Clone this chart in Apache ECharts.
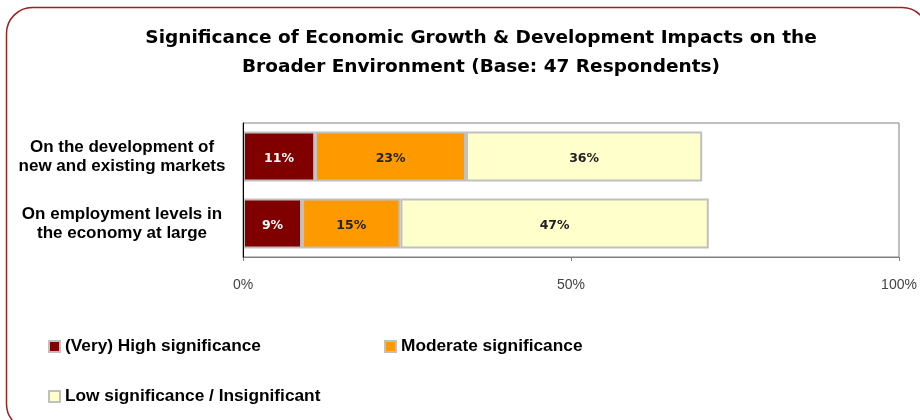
<!DOCTYPE html>
<html>
<head>
<meta charset="utf-8">
<script src="https://cdn.jsdelivr.net/npm/echarts@6/dist/echarts.min.js"></script>
<style>
  html, body { margin: 0; padding: 0; background: #fff; }
  #chart { width: 920px; height: 420px; }
</style>
</head>
<body>
<div id="chart"></div>
<script>
// Impact areas (rows, top to bottom)
const categories = [
  'On the development of\nnew and existing markets',
  'On employment levels in\nthe economy at large'
];
// Share of respondents per significance level (%)
const highSignificance = [11, 9];
const moderateSignificance = [23, 15];
const lowSignificance = [36, 47];
// Value axis ticks
const axisTicks = [0, 50, 100];

const seriesNames = [
  '(Very) High significance',
  'Moderate significance',
  'Low significance / Insignificant'
];
const seriesColors = ['#800000', '#FF9900', '#FFFFCC'];
const labelColors = ['#ffffff', '#222222', '#222222'];
const seriesValues = [highSignificance, moderateSignificance, lowSignificance];

const chart = echarts.init(document.getElementById('chart'), null, { renderer: 'canvas' });

const series = seriesNames.map((name, i) => ({
  name: name,
  type: 'bar',
  stack: 'total',
  barWidth: 50,
  data: seriesValues[i],
  itemStyle: { color: seriesColors[i], borderColor: '#C0C0C0', borderWidth: 2 },
  label: {
    show: true,
    position: 'inside',
    offset: [0, 2],
    formatter: '{c}%',
    color: labelColors[i],
    fontFamily: 'DejaVu Sans',
    fontWeight: 'bold',
    fontSize: 12.5
  },
  emphasis: { disabled: true }
}));

const legendBase = {
  icon: 'rect',
  itemWidth: 11,
  itemHeight: 11,
  itemGap: 4,
  textStyle: { fontFamily: 'Liberation Sans', fontWeight: 'bold', fontSize: 17.3, color: '#000' },
  selectedMode: false
};

chart.setOption({
  animation: false,
  backgroundColor: '#ffffff',
  title: {
    text: 'Significance of Economic Growth & Development Impacts on the\nBroader Environment (Base: 47 Respondents)',
    left: 476,
    top: 19,
    textAlign: 'center',
    textStyle: {
      fontFamily: 'DejaVu Sans',
      fontWeight: 'bold',
      fontSize: 18.5,
      lineHeight: 29,
      color: '#000'
    }
  },
  graphic: [{
    type: 'rect',
    z: -10,
    shape: { x: 6.5, y: 7.5, width: 921.5, height: 422.5, r: 26 },
    style: { fill: 'none', stroke: '#922424', lineWidth: 1.5 }
  }],
  legend: [
    Object.assign({}, legendBase, { data: [seriesNames[0]], left: 43, top: 333 }),
    Object.assign({}, legendBase, { data: [seriesNames[1]], left: 379, top: 333 }),
    Object.assign({}, legendBase, { data: [seriesNames[2]], left: 43, top: 383 })
  ],
  grid: {
    left: 243,
    right: 21,
    top: 123,
    bottom: 163,
    show: true,
    borderColor: '#808080',
    borderWidth: 1,
    containLabel: false
  },
  xAxis: {
    type: 'value',
    min: axisTicks[0],
    max: axisTicks[axisTicks.length - 1],
    interval: axisTicks[1] - axisTicks[0],
    axisLine: { show: true, lineStyle: { color: '#808080' } },
    axisTick: { show: true, length: 4, lineStyle: { color: '#808080' } },
    splitLine: { show: false },
    axisLabel: {
      formatter: '{value}%',
      margin: 21,
      fontFamily: 'Liberation Sans',
      fontSize: 14,
      color: '#444'
    }
  },
  yAxis: {
    type: 'category',
    inverse: true,
    data: categories,
    z: 5,
    axisLine: { show: true, lineStyle: { color: '#000', width: 1 } },
    axisTick: { show: false },
    axisLabel: {
      align: 'center',
      margin: 121,
      lineHeight: 19,
      fontFamily: 'Liberation Sans',
      fontWeight: 'bold',
      fontSize: 17,
      color: '#000'
    }
  },
  series: series
});
</script>
</body>
</html>
